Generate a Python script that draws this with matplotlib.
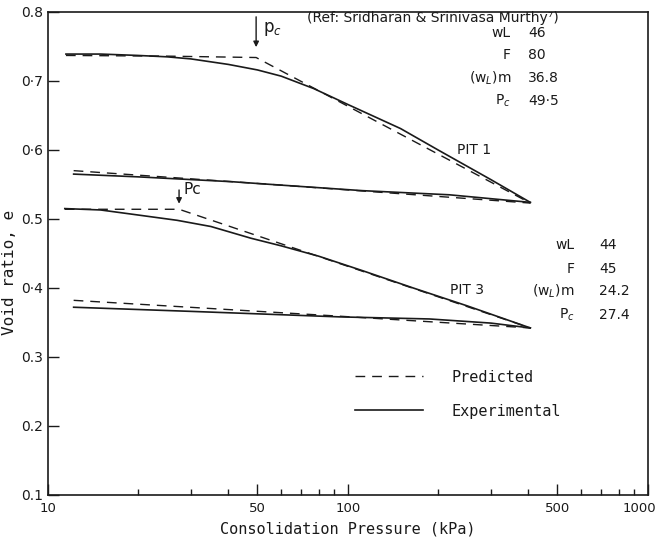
import matplotlib
matplotlib.use("Agg")
import matplotlib.pyplot as plt
import matplotlib.transforms as mtransforms
from matplotlib.ticker import FixedLocator, NullFormatter

# PIT 1 - loading and unloading branches
pit1_load_p = [11.5, 15, 20, 25, 30, 40, 50, 60, 77, 100, 150, 200, 300, 406]
pit1_load_exp = [0.739, 0.739, 0.737, 0.735, 0.732, 0.724, 0.716, 0.707, 0.689, 0.666, 0.631, 0.600, 0.557, 0.524]
pit1_load_pred_p = [11.5, 25, 49.5, 406]
pit1_load_pred = [0.737, 0.736, 0.734, 0.523]
pit1_unload_p = [12.2, 20, 41, 70, 112, 218, 406]
pit1_unload_exp = [0.565, 0.561, 0.554, 0.547, 0.541, 0.535, 0.524]
pit1_unload_pred_p = [12.2, 60, 406]
pit1_unload_pred = [0.570, 0.549, 0.523]

# PIT 3
pit3_load_p = [11.4, 15, 19, 27, 35, 47.6, 60, 80, 112, 165, 250, 406]
pit3_load_exp = [0.515, 0.513, 0.507, 0.498, 0.489, 0.472, 0.461, 0.446, 0.425, 0.400, 0.374, 0.342]
pit3_load_pred_p = [11.4, 27.4, 406]
pit3_load_pred = [0.514, 0.514, 0.342]
pit3_unload_p = [12.2, 30, 94, 187, 300, 406]
pit3_unload_exp = [0.372, 0.366, 0.358, 0.355, 0.349, 0.342]
pit3_unload_pred_p = [12.2, 94, 406]
pit3_unload_pred = [0.382, 0.359, 0.342]

# soil properties (tables on the right)
tab_labels = ["wL", "F", "(w$_L$)m", "P$_c$"]
pit1_props = ["46", "80", "36.8", "49·5"]
pit3_props = ["44", "45", "24.2", "27.4"]

ytick_vals = [0.1, 0.2, 0.3, 0.4, 0.5, 0.6, 0.7, 0.8]
ytick_text = ["0.1", "0.2", "0.3", "0·4", "0.5", "0·6", "0·7", "0.8"]
xtick_vals = [10, 50, 100, 500, 1000]
xminor_vals = [20, 30, 40, 60, 70, 80, 90, 200, 300, 400, 600, 700, 800, 900]

ink = "#1a1a1a"
mono = "DejaVu Sans Mono"

fig = plt.figure(figsize=(6.63, 5.45), dpi=100)
ax = fig.add_axes([0.072, 0.092, 0.905, 0.886])

solid = dict(color=ink, lw=1.2)
dashed = dict(color=ink, lw=1.0, dashes=(7, 5))

ax.plot(pit1_load_p, pit1_load_exp, **solid)
ax.plot(pit1_unload_p, pit1_unload_exp, **solid)
ax.plot(pit3_load_p, pit3_load_exp, **solid)
h_exp, = ax.plot(pit3_unload_p, pit3_unload_exp, **solid)
ax.plot(pit1_load_pred_p, pit1_load_pred, **dashed)
ax.plot(pit1_unload_pred_p, pit1_unload_pred, **dashed)
ax.plot(pit3_load_pred_p, pit3_load_pred, **dashed)
h_pred, = ax.plot(pit3_unload_pred_p, pit3_unload_pred, **dashed)

ax.set_xscale("log")
ax.set_xlim(10, 1000)
ax.set_ylim(0.1, 0.8)
ax.xaxis.set_major_locator(FixedLocator(xtick_vals))
ax.set_xticklabels([str(v) for v in xtick_vals])
ax.xaxis.set_minor_locator(FixedLocator(xminor_vals))
ax.xaxis.set_minor_formatter(NullFormatter())
ax.set_yticks(ytick_vals)
ax.set_yticklabels(ytick_text)
ax.tick_params(axis="both", which="major", direction="in", length=8, width=1, colors=ink, labelsize=10)
ax.tick_params(axis="x", which="minor", direction="in", length=4, width=1, colors=ink)
ax.tick_params(axis="x", which="major", pad=5, labelsize=9.5)
for s in ax.spines.values():
    s.set_color(ink)
    s.set_linewidth(1.2)

# nudge "1000" a little left so it stays inside the image
last = ax.get_xticklabels()[-1]
last.set_transform(last.get_transform() + mtransforms.ScaledTranslation(-6 / 72, 0, fig.dpi_scale_trans))

ax.set_xlabel("Consolidation Pressure (kPa)", family=mono, fontsize=11, color=ink, labelpad=5)
ax.set_ylabel("Void ratio, e", family=mono, fontsize=11.5, color=ink)
ax.yaxis.set_label_coords(-0.052, 0.46)

# pc arrows
ax.annotate("", xy=(49.5, 0.745), xytext=(49.5, 0.797),
            arrowprops=dict(arrowstyle="-|>", color=ink, lw=1, mutation_scale=8))
ax.text(52, 0.775, "p$_c$", fontsize=12, color=ink, va="center")
ax.annotate("", xy=(27.4, 0.518), xytext=(27.4, 0.546),
            arrowprops=dict(arrowstyle="-|>", color=ink, lw=1, mutation_scale=8))
ax.text(28.3, 0.542, "Pc", fontsize=11, color=ink, va="center")

ax.text(73, 0.791, "(Ref: Sridharan & Srinivasa Murthy⁷)", fontsize=10, color=ink, va="center")
ax.text(231, 0.600, "PIT 1", fontsize=10, color=ink, va="center")
ax.text(219, 0.397, "PIT 3", fontsize=10, color=ink, va="center")

tab1_y = [0.770, 0.737, 0.704, 0.671]
tab3_y = [0.462, 0.428, 0.395, 0.361]
for lab, v, y in zip(tab_labels, pit1_props, tab1_y):
    ax.text(350, y, lab, fontsize=10, color=ink, ha="right", va="center")
    ax.text(400, y, v, fontsize=10, color=ink, ha="left", va="center")
for lab, v, y in zip(tab_labels, pit3_props, tab3_y):
    ax.text(571, y, lab, fontsize=10, color=ink, ha="right", va="center")
    ax.text(690, y, v, fontsize=10, color=ink, ha="left", va="center")

leg = ax.legend([h_pred, h_exp], ["Predicted", "Experimental"],
                loc="upper left", bbox_to_anchor=(0.50, 0.275), frameon=False,
                handlelength=4.4, handletextpad=1.9, labelspacing=1.25,
                prop={"family": mono, "size": 11}, borderpad=0)
for t in leg.get_texts():
    t.set_color(ink)

fig.savefig("out.png", dpi=100)
